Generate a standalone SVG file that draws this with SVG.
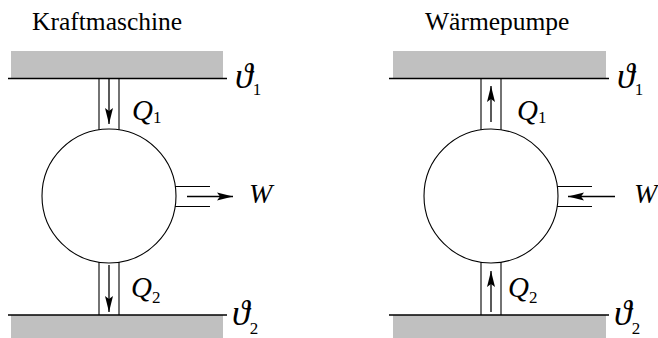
<svg xmlns="http://www.w3.org/2000/svg" width="658" height="338" viewBox="0 0 658 338">
<defs>
<style>
.bar{fill:#c0c0c0;stroke:none}
.edge{stroke:#000;stroke-width:1.3;fill:none}
.wall{stroke:#000;stroke-width:1.1;fill:none}
.body{stroke:#000;stroke-width:1.1;fill:#fff}
.arr{stroke:#000;stroke-width:1.3;fill:none;marker-end:url(#ah)}
.title{font-size:25.5px;fill:#000}
.math{font-style:italic;font-size:29px;fill:#000}
.wl{font-style:italic;font-size:28px;fill:#000}
.sub{font-style:normal;font-size:17px}
.th{font-style:italic;font-size:36px;fill:#000}
</style>
<marker id="ah" markerUnits="userSpaceOnUse" markerWidth="17" markerHeight="9" refX="16" refY="4" orient="auto" overflow="visible">
<path d="M0,0 L16,4 L0,8 L3,4 z" fill="#000"/>
</marker>
</defs>

<g id="kraftmaschine">
<text class="title" font-family="'Liberation Serif','DejaVu Serif',serif" x="32" y="30">Kraftmaschine</text>
<g id="reservoir1-left">
<rect class="bar" x="11" y="51" width="212" height="27.5"/>
<line class="edge" x1="8" y1="78.5" x2="227" y2="78.5"/>
<text class="th" font-family="'Liberation Serif','DejaVu Serif',serif" x="235" y="88">ϑ<tspan class="sub" dy="7">1</tspan></text>
</g>
<g id="reservoir2-left">
<rect class="bar" x="11" y="315" width="212" height="23"/>
<line class="edge" x1="8" y1="315" x2="227" y2="315"/>
<text class="th" font-family="'Liberation Serif','DejaVu Serif',serif" x="232" y="325">ϑ<tspan class="sub" dy="9">2</tspan></text>
</g>
<g id="engine-left">
<line class="wall" x1="99" y1="78.5" x2="99" y2="130"/>
<line class="wall" x1="119" y1="78.5" x2="119" y2="130"/>
<line class="wall" x1="99" y1="262" x2="99" y2="315"/>
<line class="wall" x1="119" y1="262" x2="119" y2="315"/>
<line class="wall" x1="175" y1="186.5" x2="210" y2="186.5"/>
<line class="wall" x1="175" y1="206.5" x2="210" y2="206.5"/>
<circle class="body" cx="109" cy="196" r="67"/>
</g>
<text class="math" font-family="'Liberation Serif','DejaVu Serif',serif" x="132" y="120">Q<tspan class="sub" dy="3">1</tspan></text>
<text class="math" font-family="'Liberation Serif','DejaVu Serif',serif" x="131" y="297">Q<tspan class="sub" dy="6">2</tspan></text>
<text class="wl" font-family="'Liberation Serif','DejaVu Serif',serif" x="249" y="203">W</text>
</g>

<g id="waermepumpe">
<text class="title" font-family="'Liberation Serif','DejaVu Serif',serif" x="425" y="30">Wärmepumpe</text>
<g id="reservoir1-right">
<rect class="bar" x="393" y="51" width="213" height="27.5"/>
<line class="edge" x1="389" y1="78.5" x2="609" y2="78.5"/>
<text class="th" font-family="'Liberation Serif','DejaVu Serif',serif" x="617" y="88">ϑ<tspan class="sub" dy="7">1</tspan></text>
</g>
<g id="reservoir2-right">
<rect class="bar" x="393" y="315" width="213" height="23"/>
<line class="edge" x1="389" y1="315" x2="609" y2="315"/>
<text class="th" font-family="'Liberation Serif','DejaVu Serif',serif" x="614" y="325">ϑ<tspan class="sub" dy="9">2</tspan></text>
</g>
<g id="engine-right">
<line class="wall" x1="481" y1="78.5" x2="481" y2="130"/>
<line class="wall" x1="501" y1="78.5" x2="501" y2="130"/>
<line class="wall" x1="481" y1="262" x2="481" y2="315"/>
<line class="wall" x1="501" y1="262" x2="501" y2="315"/>
<line class="wall" x1="557" y1="186.5" x2="592" y2="186.5"/>
<line class="wall" x1="557" y1="206.5" x2="592" y2="206.5"/>
<circle class="body" cx="491" cy="196" r="67"/>
</g>
<text class="math" font-family="'Liberation Serif','DejaVu Serif',serif" x="517" y="120">Q<tspan class="sub" dy="3">1</tspan></text>
<text class="math" font-family="'Liberation Serif','DejaVu Serif',serif" x="508" y="297">Q<tspan class="sub" dy="6">2</tspan></text>
<text class="wl" font-family="'Liberation Serif','DejaVu Serif',serif" x="634" y="203">W</text>
</g>

<g id="connectors">
<line class="arr" x1="109" y1="79" x2="109" y2="124"/>
<line class="arr" x1="187" y1="196.5" x2="233" y2="196.5"/>
<line class="arr" x1="109" y1="265" x2="109" y2="312"/>
<line class="arr" x1="491" y1="122" x2="491" y2="86"/>
<line class="arr" x1="615" y1="196.5" x2="568" y2="196.5"/>
<line class="arr" x1="491" y1="312" x2="491" y2="271"/>
</g>
</svg>
